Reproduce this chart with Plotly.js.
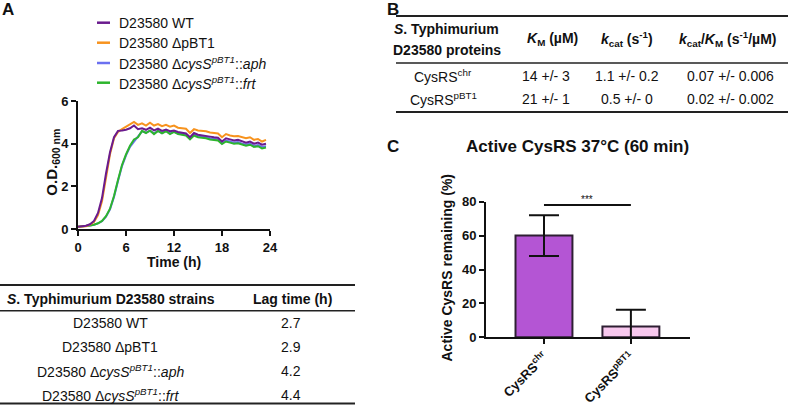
<!DOCTYPE html>
<html><head><meta charset="utf-8">
<script src="https://cdn.plot.ly/plotly-3.0.1.min.js"></script>
<style>html,body{margin:0;padding:0;background:#fff}#chart{width:790px;height:406px}</style>
</head><body><div id="chart"></div>
<script>
const W = 790, H = 406;
const FONT = 'Liberation Sans, Arial, sans-serif';

// ---- Panel A: growth curves ----
const time = [0,0.5,1,1.5,2,2.5,3,3.5,4,4.5,5,5.5,6,6.5,7,7.5,8,8.5,9,9.5,10,10.5,11,11.5,12,12.5,13,13.5,14,14.5,15,15.5,16,16.5,17,17.5,18,18.5,19,19.5,20,20.5,21,21.5,22,22.5,23,23.5];
const odWT = [0.10,0.12,0.15,0.22,0.38,0.75,1.45,2.6,3.6,4.3,4.6,4.62,4.65,4.72,4.85,4.68,4.72,4.65,4.75,4.62,4.7,4.6,4.66,4.58,4.62,4.55,4.52,4.48,4.3,4.5,4.42,4.4,4.38,4.33,4.3,4.28,4.1,4.25,4.2,4.15,4.18,4.12,4.05,4.1,4.0,4.05,3.95,4.0];
const odPBT1 = [0.10,0.11,0.13,0.20,0.33,0.65,1.3,2.4,3.5,4.25,4.55,4.68,4.8,4.9,5.02,4.88,4.95,4.85,4.98,4.85,4.92,4.82,4.88,4.8,4.85,4.75,4.72,4.7,4.5,4.68,4.62,4.6,4.58,4.52,4.5,4.48,4.3,4.45,4.38,4.35,4.36,4.3,4.25,4.3,4.18,4.22,4.1,4.18];
const odAph = [0.10,0.11,0.13,0.16,0.20,0.26,0.36,0.58,0.92,1.5,2.25,2.95,3.45,3.85,4.1,4.35,4.58,4.52,4.6,4.48,4.6,4.5,4.6,4.48,4.57,4.48,4.45,4.42,4.25,4.42,4.35,4.33,4.3,4.25,4.23,4.2,4.02,4.15,4.1,4.05,4.08,4.0,3.96,4.0,3.9,3.94,3.85,3.88];
const odFrt = [0.10,0.11,0.13,0.16,0.20,0.27,0.38,0.6,0.95,1.55,2.3,3.0,3.5,3.9,4.2,4.3,4.6,4.5,4.62,4.45,4.6,4.48,4.58,4.45,4.55,4.45,4.42,4.38,4.2,4.38,4.3,4.28,4.25,4.2,4.18,4.15,3.98,4.1,4.05,4.0,4.02,3.95,3.9,3.95,3.85,3.88,3.78,3.82];
const strainNames = ['D23580 WT','D23580 \u0394pBT1','D23580 \u0394<i>cysS</i><sup><i>pBT1</i></sup>::<i>aph</i>','D23580 \u0394<i>cysS</i><sup><i>pBT1</i></sup>::<i>frt</i>'];
const strainColors = ['#6a1b8e','#f7931e','#6b70f0','#2db52d'];
const xTicksA = [0,6,12,18,24];
const yTicksA = [0,2,4,6];

// ---- Panel A table ----
const lagTimes = ['2.7','2.9','4.2','4.4'];

// ---- Panel B table ----
const proteinNames = ['CysRS<sup>chr</sup>','CysRS<sup>pBT1</sup>'];
const kmVals = ['14 +/- 3','21 +/- 1'];
const kcatVals = ['1.1 +/- 0.2','0.5 +/- 0'];
const effVals = ['0.07 +/- 0.006','0.02 +/- 0.002'];

// ---- Panel C bars ----
const barLabels = ['<b>CysRS<sup>chr</sup></b>','<b>CysRS<sup>pBT1</sup></b>'];
const barPos = [0,1];
const activeMean = [60,6.3];
const activeSD = [12,10];
const barColors = ['#b455d4','#f8c8ee'];
const yTicksC = [0,20,40,60,80];

const X = x => x / W, Y = y => 1 - y / H;
function ann(text, x, y, o, size) {
  return Object.assign({text: text, x: X(x), y: Y(y), xref: 'paper', yref: 'paper', showarrow: false,
    xanchor: 'center', yanchor: 'middle', font: {family: FONT, size: size || 14, color: '#111'}}, o || {});
}
function hline(x0, x1, y, w) {
  return {type: 'line', xref: 'paper', yref: 'paper', x0: X(x0), x1: X(x1), y0: Y(y), y1: Y(y), line: {color: '#222', width: w}};
}

const series = [odWT, odPBT1, odAph, odFrt];
const order = [2,3,1,0];
const traces = order.map(i => ({
  x: time, y: series[i], type: 'scatter', mode: 'lines', xaxis: 'x', yaxis: 'y',
  line: {color: strainColors[i], width: 2}, hoverinfo: 'skip', showlegend: false
}));
traces.push({
  x: barPos, y: activeMean, type: 'bar', xaxis: 'x2', yaxis: 'y2', width: 0.655, showlegend: false,
  marker: {color: barColors, line: {color: '#2e1f33', width: 2}},
  error_y: {type: 'data', array: activeSD, visible: true, color: '#111', thickness: 2, width: 15}
});

const axisCommon = {showline: true, linewidth: 2, linecolor: '#111', ticks: 'outside', ticklen: 5, tickwidth: 2,
  tickcolor: '#111', showgrid: false, zeroline: false, fixedrange: true,
  tickfont: {family: FONT, size: 13, color: '#111', weight: 'bold'}};

const annotations = [];
// panel labels
annotations.push(ann('<b>A</b>', 8, 10, {}, 17));
annotations.push(ann('<b>B</b>', 393, 10, {}, 17));
annotations.push(ann('<b>C</b>', 393, 147, {}, 17));
// legend
const legY = [22.7, 42.7, 63, 82.7];
const shapes = [];
strainNames.forEach((n, i) => {
  shapes.push({type: 'line', xref: 'paper', yref: 'paper', x0: X(97), x1: X(110), y0: Y(legY[i]), y1: Y(legY[i]),
    line: {color: strainColors[i], width: 2.5}});
  annotations.push(ann(n, 117, legY[i], {xanchor: 'left'}));
});
// axis titles
annotations.push(ann('<b>O.D.<sub>600 nm</sub></b>', 51.7, 162, {textangle: -90}, 15));
annotations.push(ann('<b>Time (h)</b>', 174, 261.5, {}, 14));
annotations.push(ann('<b>Active CysRS 37\u00b0C (60 min)</b>', 577.5, 146.5, {}, 17));
annotations.push(ann('<b>Active CysRS remaining (%)</b>', 446.5, 268, {textangle: -90}, 14));
annotations.push({text: '***', x: 0.5, y: 78, xref: 'x2', yref: 'y2', showarrow: false, yanchor: 'bottom', yshift: -2,
  font: {family: FONT, size: 10, color: '#111'}});
shapes.push({type: 'line', xref: 'x2', yref: 'y2', x0: barPos[0], x1: barPos[1], y0: 78, y1: 78, line: {color: '#111', width: 2}});

// table A
shapes.push(hline(0, 355, 285, 2), hline(0, 355, 310.7, 1.5), hline(0, 355, 403.5, 2));
annotations.push(ann('<b><i>S</i>. Typhimurium D23580 strains</b>', 111, 298.5));
annotations.push(ann('<b>Lag time (h)</b>', 292, 298.5));
const rowYA = [323, 347, 371, 394.5];
strainNames.forEach((n, i) => {
  annotations.push(ann(n, 110, rowYA[i]));
  annotations.push(ann(lagTimes[i], 291, rowYA[i]));
});

// table B
shapes.push(hline(396, 788, 16, 2), hline(396, 788, 63, 1.5), hline(396, 788, 112, 2));
annotations.push(ann('<b><i>S</i>. Typhimurium</b>', 446, 29));
annotations.push(ann('<b>D23580 proteins</b>', 447, 50));
annotations.push(ann('<b><i>K</i><sub>M</sub> (\u00b5M)</b>', 552, 39.5));
annotations.push(ann('<b><i>k</i><sub>cat</sub> (s<sup>-1</sup>)</b>', 627, 39.5));
annotations.push(ann('<b><i>k</i><sub>cat</sub>/<i>K</i><sub>M</sub> (s<sup>-1</sup>/\u00b5M)</b>', 728, 39.5));
const rowYB = [76, 99];
proteinNames.forEach((n, i) => {
  annotations.push(ann(n, 443, rowYB[i]));
  annotations.push(ann(kmVals[i], 546, rowYB[i]));
  annotations.push(ann(kcatVals[i], 627, rowYB[i]));
  annotations.push(ann(effVals[i], 730, rowYB[i]));
});

const layout = {
  width: W, height: H, margin: {l: 0, r: 0, t: 0, b: 0}, paper_bgcolor: '#fff', plot_bgcolor: '#fff',
  showlegend: false, font: {family: FONT, color: '#111'},
  xaxis: Object.assign({}, axisCommon, {domain: [X(78), X(270)], range: [0, 24], tickvals: xTicksA, anchor: 'y'}),
  yaxis: Object.assign({}, axisCommon, {domain: [Y(229), Y(101)], range: [0, 6], tickvals: yTicksA, anchor: 'x'}),
  xaxis2: Object.assign({}, axisCommon, {domain: [X(486), X(690)], range: [-0.667, 1.68], tickvals: barPos,
    ticktext: barLabels, tickangle: -45, anchor: 'y2', tickfont: {family: FONT, size: 13, color: '#111', weight: 'bold'}}),
  yaxis2: Object.assign({}, axisCommon, {domain: [Y(337.3), Y(201.7)], range: [0, 80], tickvals: yTicksC, anchor: 'x2'}),
  shapes: shapes, annotations: annotations
};
Plotly.newPlot('chart', traces, layout, {staticPlot: true, displayModeBar: false});
</script></body></html>
